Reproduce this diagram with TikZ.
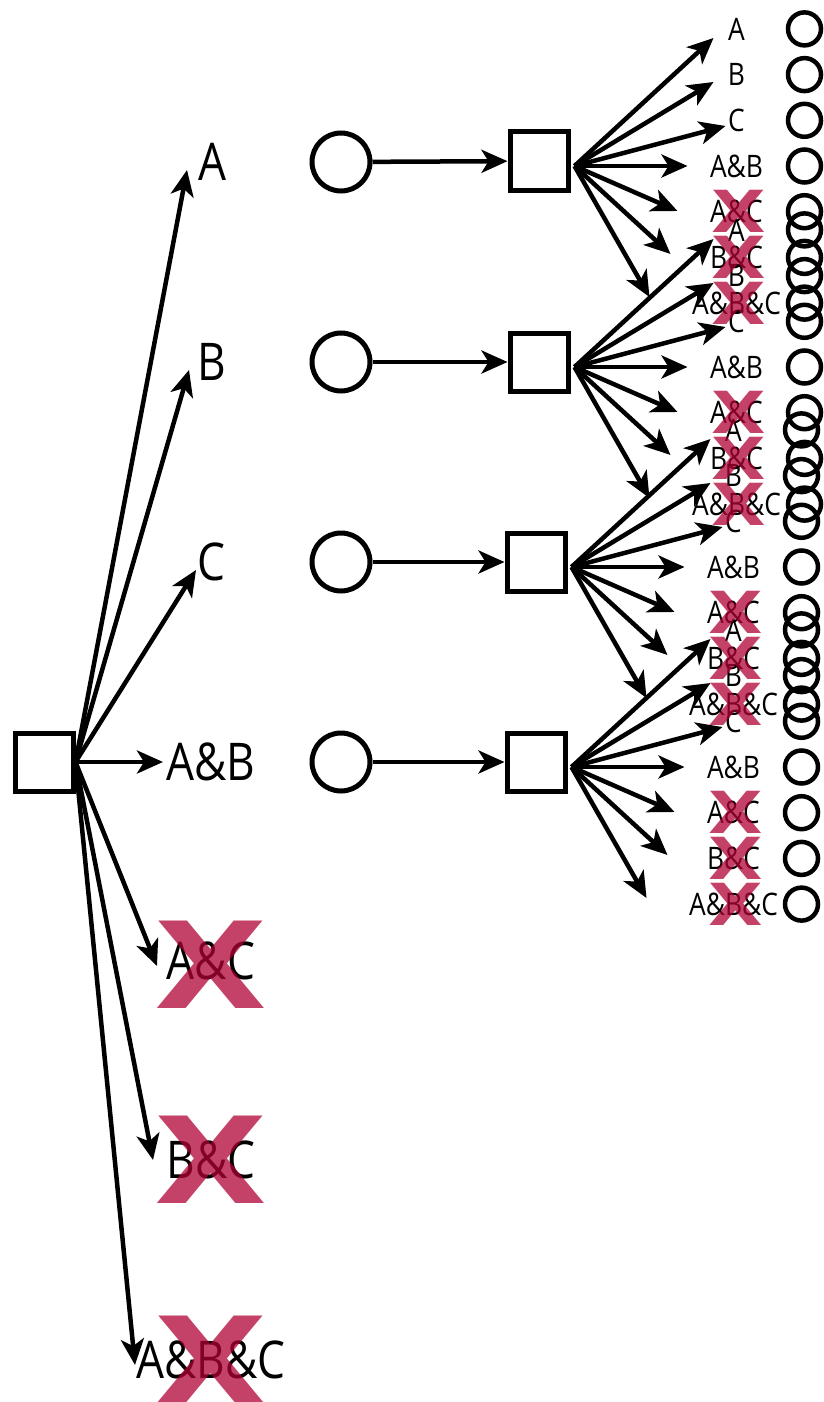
\documentclass[tikz,border=0pt]{standalone}
\usepackage{fontspec}
\newfontfamily\labfont[FakeStretch=0.85]{Open Sans}
\newfontfamily\xfont{DejaVu Sans}
\usetikzlibrary{arrows.meta,calc}
\definecolor{xred}{RGB}{176,0,51}
\begin{document}
\begin{tikzpicture}[x=1pt,y=-1pt,
  arr/.style={line width=4.5pt,-{Stealth[length=26pt,width=23pt,inset=7pt]}},
  sq/.style={draw,line width=5pt,minimum size=58pt,inner sep=0pt,rectangle},
  bigcirc/.style={draw,line width=5pt,minimum size=58pt,inner sep=0pt,circle},
  smallcirc/.style={draw,line width=4.5pt,minimum size=33pt,inner sep=0pt,circle},
  biglab/.style={inner sep=0pt,font=\labfont\fontsize{52}{52}\selectfont},
  smalllab/.style={inner sep=0pt,font=\labfont\fontsize{31}{31}\selectfont},
  bigx/.style={inner sep=0pt,text=xred,text opacity=0.74,font=\xfont\bfseries\fontsize{120}{120}\selectfont},
  smallx/.style={inner sep=0pt,text=xred,text opacity=0.74,font=\xfont\bfseries\fontsize{58}{58}\selectfont}]
\useasboundingbox (0,0) rectangle (823,1402);

% root
\node[sq] (L) at (44,762) {};

% first-level labels
\node[biglab] (lA)   at (212,162)  {A};
\node[biglab] (lB)   at (212,362)  {B};
\node[biglab] (lC)   at (211,562)  {C};
\node[biglab] (lAB)  at (211,762)  {A\&B};
\node[biglab] (lAC)  at (211,961)  {A\&C};
\node[biglab] (lBC)  at (211,1160) {B\&C};
\node[biglab] (lABC) at (211,1360) {A\&B\&C};

\coordinate (tA)   at ($(lA)+(-25,8)$);
\coordinate (tB)   at ($(lB)+(-23,8)$);
\coordinate (tC)   at ($(lC)+(-15,8)$);
\coordinate (tAB)  at ($(lAB)+(-48,0)$);
\coordinate (tAC)  at ($(lAC)+(-54,5)$);
\coordinate (tBC)  at ($(lBC)+(-58,0)$);
\coordinate (tABC) at ($(lABC)+(-76,5)$);
\foreach \t in {tA,tB,tC,tAB,tAC,tBC,tABC}
  \draw[arr] (L.east) -- (\t);

% second level
\node[bigcirc] (c1) at (341,162) {};
\node[bigcirc] (c2) at (341,362) {};
\node[bigcirc] (c3) at (341,562) {};
\node[bigcirc] (c4) at (341,762) {};
\node[sq] (s1) at (539,161) {};
\node[sq] (s2) at (539,362) {};
\node[sq] (s3) at (536,562) {};
\node[sq] (s4) at (536,762) {};
\foreach \i in {1,...,4}
  \draw[arr] (c\i) -- (s\i);

% fans
\foreach \i in {1,...,4} {
  \coordinate (f\i) at ($(s\i.east)+(4,5)$);
  \foreach \lab/\k/\dx/\dy [count=\j] in
     {A/-3/139/-128, B/-2/139/-84, C/-1/151/-40, A\&B/0/113/0,
      A\&C/1/103/45, B\&C/2/96/88, A\&B\&C/3/75/131} {
    \node[smalllab] (l\i\j) at ($(f\i)+(162,{45.7*(\k)})$) {\lab};
    \node[smallcirc] (o\i\j) at ($(f\i)+(230,{45.7*(\k)})$) {};
    \coordinate (t\i\j) at ($(f\i)+(\dx,\dy)$);
    \draw[arr] (f\i) -- (t\i\j);
  }
}

% crosses
\foreach \i in {1,...,4}
  \foreach \j in {5,6,7}
    \node[smallx] at ($(l\i\j)+(2,0)$) {\scalebox{1.22}[1]{X}};
\node[bigx] at ($(lAC)+(0,4)$)  {\scalebox{1.22}[1]{X}};
\node[bigx] at ($(lBC)+(0,0)$)  {\scalebox{1.22}[1]{X}};
\node[bigx] at ($(lABC)+(0,0)$) {\scalebox{1.22}[1]{X}};
\end{tikzpicture}
\end{document}
